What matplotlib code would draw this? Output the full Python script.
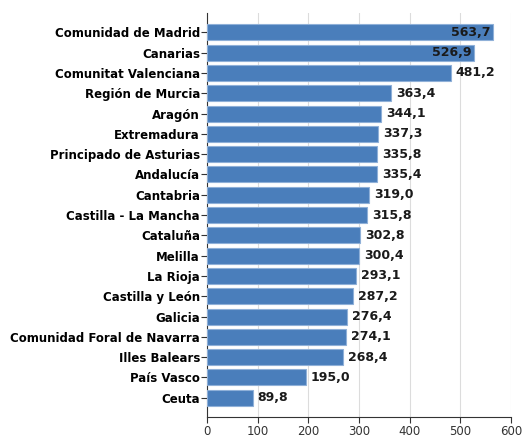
import numpy as np
import matplotlib.pyplot as plt

regions = ["Comunidad de Madrid", "Canarias", "Comunitat Valenciana", "Región de Murcia",
           "Aragón", "Extremadura", "Principado de Asturias", "Andalucía", "Cantabria",
           "Castilla - La Mancha", "Cataluña", "Melilla", "La Rioja", "Castilla y León",
           "Galicia", "Comunidad Foral de Navarra", "Illes Balears", "País Vasco", "Ceuta"]
values = [563.7, 526.9, 481.2, 363.4, 344.1, 337.3, 335.8, 335.4, 319.0,
          315.8, 302.8, 300.4, 293.1, 287.2, 276.4, 274.1, 268.4, 195.0, 89.8]
xticks = [0, 100, 200, 300, 400, 500, 600]

fig = plt.figure(figsize=(5.22, 4.37), dpi=100)
ax = fig.add_axes([0.3966, 0.0458, 0.979 - 0.3966, 0.970 - 0.0458])

y = np.arange(len(regions))
ax.barh(y, values, height=0.79, color="#4a7ebb", edgecolor="#8fb0d8", linewidth=0.8, zorder=3)

for yi, v in zip(y, values):
    txt = f"{v:.1f}".replace(".", ",")
    if v > 500:
        ax.text(v - 5, yi, txt, ha="right", va="center", fontsize=9, fontweight="bold",
                color="#1a1a1a", zorder=4)
    else:
        ax.text(v + 10, yi, txt, ha="left", va="center", fontsize=9, fontweight="bold",
                color="#1a1a1a", zorder=4)

ax.set_yticks(y)
ax.set_yticklabels(regions, fontsize=8.5, fontweight="bold")
ax.set_ylim(len(regions) - 0.05, -0.95)
ax.set_xlim(0, 600)
ax.set_xticks(xticks)
ax.set_xticklabels([str(t) for t in xticks], fontsize=8.5, color="#333333")

ax.grid(axis="x", color="#dcdcdc", linewidth=0.8, zorder=0)
ax.spines["top"].set_visible(False)
ax.spines["right"].set_visible(False)
ax.spines["left"].set_color("#333333")
ax.spines["bottom"].set_color("#333333")
ax.tick_params(axis="y", length=4, width=0.8, color="#333333", pad=1)
ax.tick_params(axis="x", length=4, width=0.8, color="#333333", pad=2)

fig.savefig("out.png", dpi=100)
